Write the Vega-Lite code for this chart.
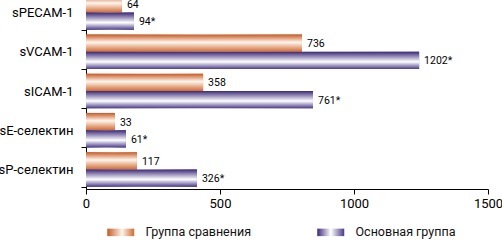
{
  "$schema": "https://vega.github.io/schema/vega-lite/v6.json",
  "autosize": "none",
  "width": 402,
  "height": 189,
  "padding": {"left": 86, "top": 0, "right": 14, "bottom": 52},
  "config": {"view": {"stroke": null}, "font": "Roboto"},
  "data": {"values": [
    {"marker": "sPECAM-1", "group": "Группа сравнения", "value": 134, "label": "64"},
    {"marker": "sPECAM-1", "group": "Основная группа", "value": 179, "label": "94*"},
    {"marker": "sVCAM-1", "group": "Группа сравнения", "value": 806, "label": "736"},
    {"marker": "sVCAM-1", "group": "Основная группа", "value": 1243, "label": "1202*"},
    {"marker": "sICAM-1", "group": "Группа сравнения", "value": 437, "label": "358"},
    {"marker": "sICAM-1", "group": "Основная группа", "value": 847, "label": "761*"},
    {"marker": "sE-селектин", "group": "Группа сравнения", "value": 108, "label": "33"},
    {"marker": "sE-селектин", "group": "Основная группа", "value": 149, "label": "61*"},
    {"marker": "sP-селектин", "group": "Группа сравнения", "value": 190, "label": "117"},
    {"marker": "sP-селектин", "group": "Основная группа", "value": 414, "label": "326*"}
  ]},
  "encoding": {
    "y": {
      "field": "marker", "type": "nominal", "sort": null,
      "scale": {"range": [-7, 189], "paddingInner": 0.12, "paddingOuter": 0.06},
      "axis": {
        "title": null, "domainColor": "#000", "tickColor": "#000", "tickSize": 5,
        "tickBand": "extent", "labelFontSize": 13, "labelColor": "#000", "labelPadding": 8,
        "grid": false, "labelLimit": 90,
        "encode": {"labels": {"update": {"dy": {"signal": "datum.label === 'sPECAM-1' ? 4 : 0"}}}}
      }
    },
    "yOffset": {"field": "group", "type": "nominal", "sort": ["Группа сравнения", "Основная группа"]},
    "x": {
      "field": "value", "type": "quantitative",
      "scale": {"domain": [0, 1500]},
      "axis": {
        "title": null, "values": [0, 500, 1000, 1500], "format": "d", "domainColor": "#000", "tickColor": "#000",
        "tickSize": 5, "labelFontSize": 13, "labelColor": "#000", "labelPadding": 3,
        "labelFlush": false, "grid": false
      }
    }
  },
  "layer": [
    {
      "mark": {"type": "bar", "clip": false},
      "encoding": {
        "fill": {
          "field": "group", "type": "nominal",
          "sort": ["Группа сравнения", "Основная группа"],
          "scale": {"range": [
            {"expr": "{gradient: 'linear', x1: 0, y1: 0, x2: 1, y2: 0, stops: [{offset: 0, color: '#c85a22'}, {offset: 0.55, color: '#fff4ea'}, {offset: 1, color: '#d06a30'}]}"},
            {"expr": "{gradient: 'linear', x1: 0, y1: 0, x2: 1, y2: 0, stops: [{offset: 0, color: '#3a2878'}, {offset: 0.5, color: '#ffffff'}, {offset: 1, color: '#4a3a8a'}]}"}
          ]},
          "legend": {
            "title": null, "orient": "none", "direction": "horizontal",
            "legendX": 28.5, "legendY": 226, "padding": 0,
            "symbolType": "M-2.7,-0.75H2.7V0.75H-2.7Z", "symbolSize": 100,
            "symbolStrokeWidth": 0, "labelFontSize": 12.5, "labelColor": "#111",
            "labelOffset": 18.5, "columnPadding": 65
          }
        }
      }
    },
    {
      "mark": {"type": "bar", "clip": false},
      "encoding": {
        "fill": {
          "condition": {
            "test": "datum.group === 'Группа сравнения'",
            "value": {"gradient": "linear", "x1": 0, "y1": 0, "x2": 0, "y2": 1,
              "stops": [{"offset": 0, "color": "#c85a22"}, {"offset": 0.45, "color": "#fff6ee"}, {"offset": 1, "color": "#d06a30"}]}
          },
          "value": {"gradient": "linear", "x1": 0, "y1": 0, "x2": 0, "y2": 1,
            "stops": [{"offset": 0, "color": "#3a2878"}, {"offset": 0.58, "color": "#ffffff"}, {"offset": 1, "color": "#4a3a8a"}]}
        }
      }
    },
    {
      "mark": {"type": "text", "align": "left", "baseline": "middle", "dx": 5, "dy": 1, "fontSize": 10.5, "color": "#000"},
      "encoding": {"text": {"field": "label"}}
    }
  ]
}
